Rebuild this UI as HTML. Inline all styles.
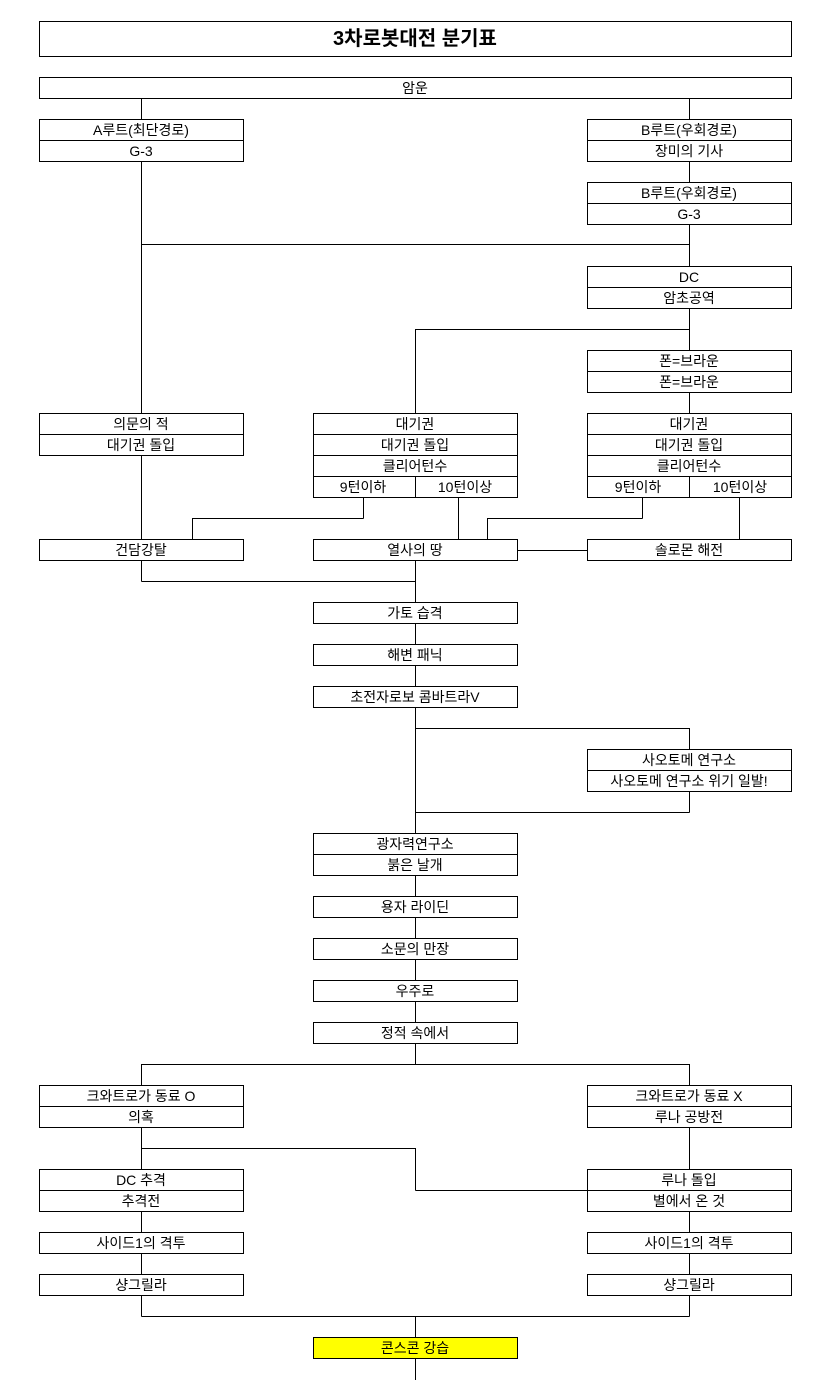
<!DOCTYPE html>
<html><head><meta charset="utf-8"><style>
html,body{margin:0;padding:0;background:#fff;width:831px;height:1380px;overflow:hidden}
svg text{font-family:"Liberation Sans","Noto Sans CJK KR",sans-serif;font-size:14px;fill:#000;text-anchor:middle;dominant-baseline:central}
</style></head><body>
<svg width="831" height="1380" viewBox="0 0 831 1380" xmlns="http://www.w3.org/2000/svg" shape-rendering="crispEdges">
<g stroke="#000" stroke-width="1" fill="none">
<!-- connectors -->
<path d="M141.5 98V119 M689.5 98V119 M689.5 161V182 M141.5 161V413 M141.5 244.5H689.5 M689.5 224V266 M689.5 308V350 M415.5 329.5H689.5 M415.5 329V413 M689.5 392V413
M141.5 455V539 M363.5 497V518.5 M192.5 518.5H363.5 M192.5 518V539 M458.5 497V539 M642.5 497V518.5 M487.5 518.5H642.5 M487.5 518V539 M739.5 497V539 M517 550.5H587
M141.5 560V581.5 M141.5 581.5H415.5 M415.5 560V602 M415.5 623V644 M415.5 665V686 M415.5 707V833 M415.5 728.5H689.5 M689.5 728V749 M689.5 791V812.5 M415.5 812.5H689.5
M415.5 875V896 M415.5 917V938 M415.5 959V980 M415.5 1001V1022 M415.5 1043V1064.5 M141.5 1064.5H689.5 M141.5 1064V1085 M689.5 1064V1085
M141.5 1127V1169 M141.5 1148.5H415.5 M415.5 1148V1190.5 M415.5 1190.5H587 M689.5 1127V1169 M141.5 1211V1232 M689.5 1211V1232 M141.5 1253V1274 M689.5 1253V1274
M141.5 1295V1316.5 M689.5 1295V1316.5 M141.5 1316.5H689.5 M415.5 1316V1337 M415.5 1358V1380"/>
<!-- boxes -->
<rect x="39.5" y="21.5" width="752" height="35"/>
<rect x="39.5" y="77.5" width="752" height="21"/>
<rect x="39.5" y="119.5" width="204" height="42"/><path d="M39.5 140.5H243.5"/>
<rect x="587.5" y="119.5" width="204" height="42"/><path d="M587.5 140.5H791.5"/>
<rect x="587.5" y="182.5" width="204" height="42"/><path d="M587.5 203.5H791.5"/>
<rect x="587.5" y="266.5" width="204" height="42"/><path d="M587.5 287.5H791.5"/>
<rect x="587.5" y="350.5" width="204" height="42"/><path d="M587.5 371.5H791.5"/>
<rect x="39.5" y="413.5" width="204" height="42"/><path d="M39.5 434.5H243.5"/>
<rect x="313.5" y="413.5" width="204" height="84"/><path d="M313.5 434.5H517.5 M313.5 455.5H517.5 M313.5 476.5H517.5 M415.5 476.5V497.5"/>
<rect x="587.5" y="413.5" width="204" height="84"/><path d="M587.5 434.5H791.5 M587.5 455.5H791.5 M587.5 476.5H791.5 M689.5 476.5V497.5"/>
<rect x="39.5" y="539.5" width="204" height="21"/>
<rect x="313.5" y="539.5" width="204" height="21"/>
<rect x="587.5" y="539.5" width="204" height="21"/>
<rect x="313.5" y="602.5" width="204" height="21"/>
<rect x="313.5" y="644.5" width="204" height="21"/>
<rect x="313.5" y="686.5" width="204" height="21"/>
<rect x="587.5" y="749.5" width="204" height="42"/><path d="M587.5 770.5H791.5"/>
<rect x="313.5" y="833.5" width="204" height="42"/><path d="M313.5 854.5H517.5"/>
<rect x="313.5" y="896.5" width="204" height="21"/>
<rect x="313.5" y="938.5" width="204" height="21"/>
<rect x="313.5" y="980.5" width="204" height="21"/>
<rect x="313.5" y="1022.5" width="204" height="21"/>
<rect x="39.5" y="1085.5" width="204" height="42"/><path d="M39.5 1106.5H243.5"/>
<rect x="587.5" y="1085.5" width="204" height="42"/><path d="M587.5 1106.5H791.5"/>
<rect x="39.5" y="1169.5" width="204" height="42"/><path d="M39.5 1190.5H243.5"/>
<rect x="587.5" y="1169.5" width="204" height="42"/><path d="M587.5 1190.5H791.5"/>
<rect x="39.5" y="1232.5" width="204" height="21"/>
<rect x="587.5" y="1232.5" width="204" height="21"/>
<rect x="39.5" y="1274.5" width="204" height="21"/>
<rect x="587.5" y="1274.5" width="204" height="21"/>
<rect x="313.5" y="1337.5" width="204" height="21" fill="#ffff00"/>
</g>
<text x="415" y="39" style="font-size:20px;font-weight:bold">3차로봇대전 분기표</text>
<text x="415" y="88">암운</text>
<text x="141" y="130">A루트(최단경로)</text><text x="141" y="151">G-3</text>
<text x="689" y="130">B루트(우회경로)</text><text x="689" y="151">장미의 기사</text>
<text x="689" y="193">B루트(우회경로)</text><text x="689" y="214">G-3</text>
<text x="689" y="277">DC</text><text x="689" y="298">암초공역</text>
<text x="689" y="361">폰=브라운</text><text x="689" y="382">폰=브라운</text>
<text x="141" y="424">의문의 적</text><text x="141" y="445">대기권 돌입</text>
<text x="415" y="424">대기권</text><text x="415" y="445">대기권 돌입</text><text x="415" y="466">클리어턴수</text>
<text x="363" y="487">9턴이하</text><text x="465" y="487">10턴이상</text>
<text x="689" y="424">대기권</text><text x="689" y="445">대기권 돌입</text><text x="689" y="466">클리어턴수</text>
<text x="638" y="487">9턴이하</text><text x="740" y="487">10턴이상</text>
<text x="141" y="550">건담강탈</text>
<text x="415" y="550">열사의 땅</text>
<text x="689" y="550">솔로몬 해전</text>
<text x="415" y="613">가토 습격</text>
<text x="415" y="655">해변 패닉</text>
<text x="415" y="697">초전자로보 콤바트라V</text>
<text x="689" y="760">사오토메 연구소</text><text x="689" y="781">사오토메 연구소 위기 일발!</text>
<text x="415" y="844">광자력연구소</text><text x="415" y="865">붉은 날개</text>
<text x="415" y="907">용자 라이딘</text>
<text x="415" y="949">소문의 만장</text>
<text x="415" y="991">우주로</text>
<text x="415" y="1033">정적 속에서</text>
<text x="141" y="1096">크와트로가 동료 O</text><text x="141" y="1117">의혹</text>
<text x="689" y="1096">크와트로가 동료 X</text><text x="689" y="1117">루나 공방전</text>
<text x="141" y="1180">DC 추격</text><text x="141" y="1201">추격전</text>
<text x="689" y="1180">루나 돌입</text><text x="689" y="1201">별에서 온 것</text>
<text x="141" y="1243">사이드1의 격투</text>
<text x="689" y="1243">사이드1의 격투</text>
<text x="141" y="1285">샹그릴라</text>
<text x="689" y="1285">샹그릴라</text>
<text x="415" y="1348">콘스콘 강습</text>
</svg>
</body></html>
